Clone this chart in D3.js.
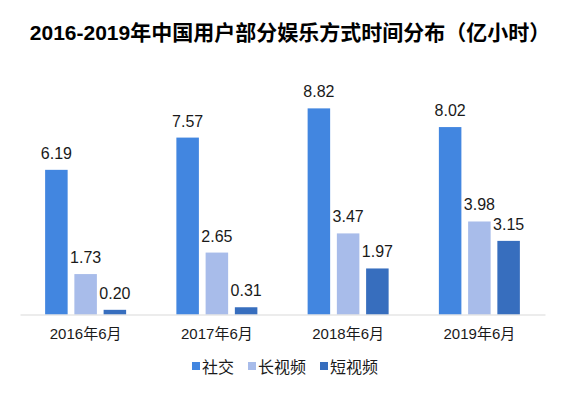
<!DOCTYPE html>
<html>
<head>
<meta charset="utf-8">
<script src="https://cdn.jsdelivr.net/npm/d3@7"></script>
<style>
  body { margin: 0; background: #fff; }
  text { font-family: "Liberation Sans", Arial, "Noto Sans CJK SC", sans-serif; }
</style>
</head>
<body>
<div id="chart"></div>
<script>
  const categories = ["2016年6月", "2017年6月", "2018年6月", "2019年6月"];
  const seriesNames = ["社交", "长视频", "短视频"];
  const social = [6.19, 7.57, 8.82, 8.02];
  const longVideo = [1.73, 2.65, 3.47, 3.98];
  const shortVideo = [0.20, 0.31, 1.97, 3.15];
  const colors = ["#4286e0", "#a8bcea", "#376ebe"];

  const width = 568, height = 397;
  const svg = d3.select("#chart").append("svg")
    .attr("width", width)
    .attr("height", height);

  // title
  svg.append("text")
    .attr("x", 290)
    .attr("y", 40)
    .attr("text-anchor", "middle")
    .style("font-size", "21px")
    .style("font-weight", "bold")
    .text("2016-2019年中国用户部分娱乐方式时间分布（亿小时）");

  const values = [social, longVideo, shortVideo];
  const data = [];
  categories.forEach((c, i) => {
    seriesNames.forEach((s, j) => {
      data.push({ cat: c, series: s, value: values[j][i], idx: j });
    });
  });

  const x = d3.scaleBand()
    .domain(categories)
    .range([20, 545]);

  const xInner = d3.scaleBand()
    .domain(seriesNames)
    .range([x.bandwidth() / 2 - 40.5, x.bandwidth() / 2 + 40.5])
    .paddingInner(0.23);

  const y = d3.scaleLinear()
    .domain([0, 10])
    .range([314.5, 80.8]);

  // bars
  svg.append("g")
    .selectAll("rect")
    .data(data)
    .join("rect")
    .attr("x", d => x(d.cat) + xInner(d.series))
    .attr("y", d => y(d.value))
    .attr("width", xInner.bandwidth())
    .attr("height", d => y(0) - y(d.value))
    .attr("fill", d => colors[d.idx]);

  // value labels
  svg.append("g")
    .selectAll("text")
    .data(data)
    .join("text")
    .attr("x", d => x(d.cat) + xInner(d.series) + xInner.bandwidth() / 2)
    .attr("y", d => y(d.value) - 11)
    .attr("text-anchor", "middle")
    .style("font-size", "16px")
    .style("fill", "#1a1a1a")
    .text(d => d.value.toFixed(2));

  // x axis
  const xAxis = svg.append("g")
    .attr("transform", `translate(0, ${y(0)})`)
    .call(d3.axisBottom(x).tickSize(0).tickPadding(14));
  xAxis.select(".domain").attr("stroke", "#d9d9d9").attr("stroke-width", 1);
  xAxis.selectAll(".tick text")
    .style("font-size", "15px")
    .style("fill", "#1a1a1a")
    .style("font-family", "'Liberation Sans', Arial, 'Noto Sans CJK SC', sans-serif");

  // legend
  const legendX = [192, 248, 320];
  const legend = svg.append("g");
  seriesNames.forEach((s, i) => {
    legend.append("rect")
      .attr("x", legendX[i])
      .attr("y", 362)
      .attr("width", 8)
      .attr("height", 8)
      .attr("fill", colors[i]);
    legend.append("text")
      .attr("x", legendX[i] + 10)
      .attr("y", 373)
      .style("font-size", "16px")
      .style("fill", "#1a1a1a")
      .text(s);
  });
</script>
</body>
</html>
